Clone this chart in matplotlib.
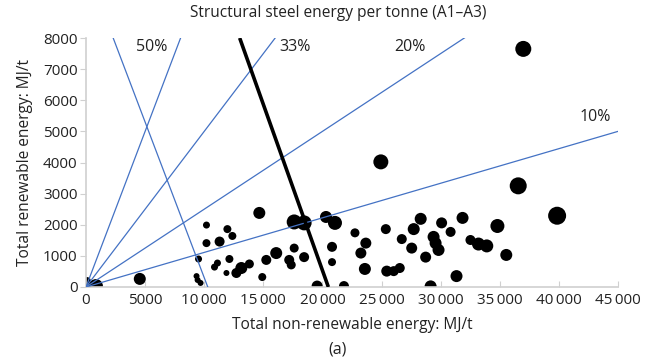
import matplotlib.pyplot as plt
import matplotlib.ticker as ticker
import numpy as np

plt.rcParams['font.family'] = ['Open Sans', 'DejaVu Sans']

# Data: non-renewable (MJ/t), renewable (MJ/t), relative bubble size
non_renewable = [36990, 24940, 36560, 39850, 80, 840, 4550, 10190, 10190, 9520,
                 9350, 9440, 9690, 10870, 11120, 11300, 14660, 17610, 18450, 20300,
                 21060, 11960, 12380, 17610, 20810, 20810, 16090, 15250, 17190, 18450,
                 17360, 12130, 13140, 13820, 12720, 11880, 14910, 19550, 21820, 22750,
                 25360, 23670, 23250, 23590, 25440, 26030, 26540, 26710, 27720, 28310,
                 27550, 28730, 29400, 29570, 29820, 30080, 30840, 31850, 31340, 29150,
                 32520, 34800, 33200, 33900, 35550]
renewable = [7650, 4020, 3250, 2290, 190, 30, 260, 1990, 1410, 900,
             350, 225, 130, 640, 770, 1460, 2380, 2090, 2060, 2250,
             2060, 1860, 1640, 1250, 1290, 800, 1090, 870, 870, 960,
             710, 900, 610, 740, 450, 450, 320, 30, 30, 1740,
             1860, 1410, 1090, 580, 510, 510, 610, 1540, 1860, 2190,
             1250, 960, 1610, 1410, 1190, 2060, 1770, 2220, 350, 20,
             1510, 1960, 1380, 1320, 1030]
bubble = [16, 15, 17, 18, 8, 14, 12, 7, 8, 7,
          6, 6, 6, 7, 7, 10, 12, 15, 15, 12,
          14, 8, 8, 9, 10, 8, 12, 10, 10, 10,
          9, 8, 12, 9, 10, 6, 8, 11, 10, 9,
          10, 11, 11, 12, 11, 10, 10, 10, 12, 12,
          11, 11, 12, 12, 12, 11, 10, 12, 12, 12,
          10, 14, 13, 13, 12]

# renewable share lines from origin
share_pct = [50, 33, 20, 10]
share_label_pos = [(5560, 7700), (17700, 7700), (27400, 7700), (43050, 5450)]
total_line = 10300                   # constant total energy line (MJ/t)
black_line_n = [13000, 20500]
black_line_r = [8000, 0]

fig = plt.figure(figsize=(6.56, 3.62), dpi=100)
ax = fig.add_axes([86/656, 1-287/362, (618-86)/656, (287-38)/362])

sizes = [(d*0.72)**2 for d in bubble]
ax.scatter(non_renewable, renewable, s=sizes, c='black', linewidths=0, zorder=2)

blue = '#4472c4'
for p in share_pct:
    k = p/(100-p) if p != 33 else 0.5
    if p == 10:
        n = np.array([0, 45000])
    else:
        n = np.array([0, 60000])
    ax.plot(n, n*k, color=blue, lw=0.9, zorder=3)
for p, (tx, ty) in zip(share_pct, share_label_pos):
    ax.text(tx, ty, f'{p}%', fontsize=11.5, ha='center', va='center', color='#222222')

ax.plot([total_line-9000, total_line], [9000, 0], color=blue, lw=0.9, zorder=3)
ax.plot(black_line_n, black_line_r, color='black', lw=2.6, zorder=4,
        solid_capstyle='butt')

ax.set_xlim(0, 45000)
ax.set_ylim(0, 8000)
ax.xaxis.set_major_locator(ticker.MultipleLocator(5000))
ax.yaxis.set_major_locator(ticker.MultipleLocator(1000))

def fmt_x(x, pos):
    v = int(round(x))
    if v >= 10000:
        return f'{v // 1000}\u2009{v % 1000:03d}'
    return str(v)

ax.xaxis.set_major_formatter(ticker.FuncFormatter(fmt_x))
ax.yaxis.set_major_formatter(ticker.FuncFormatter(lambda y, pos: f'{int(y)}'))

for s in ['top', 'right']:
    ax.spines[s].set_visible(False)
for s in ['left', 'bottom']:
    ax.spines[s].set_color('#d0d0d0')
    ax.spines[s].set_linewidth(1.2)
ax.tick_params(axis='x', direction='in', length=4, color='#d0d0d0', labelsize=11,
               labelcolor='#222222', pad=4)
ax.tick_params(axis='y', direction='out', length=4, color='#d0d0d0', labelsize=11,
               labelcolor='#222222', pad=2)

ax.set_xlabel('Total non-renewable energy: MJ/t', fontsize=11.2, color='#222222', labelpad=7)
ax.set_ylabel('Total renewable energy: MJ/t', fontsize=11.2, color='#222222', labelpad=7)
fig.text(338/656, 1-13/362, 'Structural steel energy per tonne (A1\u2013A3)',
         ha='center', va='center', fontsize=11.2, color='#222222')
fig.text(338/656, 1-350/362, '(a)', ha='center', va='center', fontsize=11.5, color='#222222')

plt.savefig('out.png', dpi=100)
